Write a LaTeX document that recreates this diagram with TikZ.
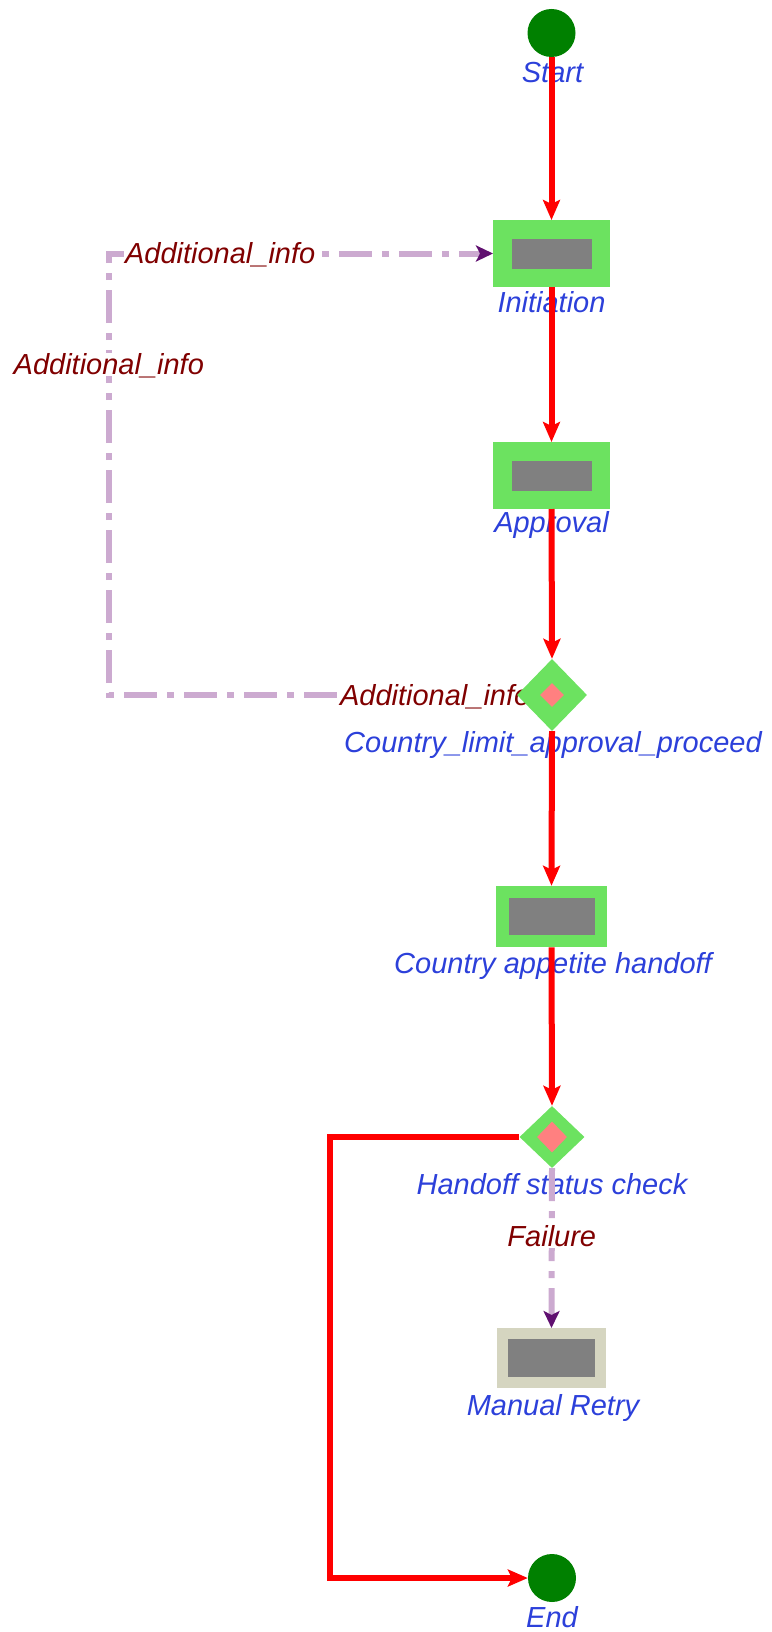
\documentclass[tikz,border=0pt]{standalone}
\usepackage{fontspec}
\setmainfont{Liberation Sans}
\usetikzlibrary{shapes.geometric,arrows.meta}

\pgfdeclarelayer{back}
\pgfsetlayers{back,main}

\definecolor{termgreen}{RGB}{0,128,0}
\definecolor{taskgreen}{RGB}{108,226,96}
\definecolor{taskgray}{RGB}{128,128,128}
\definecolor{retrybeige}{RGB}{213,213,192}
\definecolor{gatepink}{RGB}{255,128,128}
\definecolor{flowred}{RGB}{255,0,0}
\definecolor{looplilac}{RGB}{204,170,208}
\definecolor{looptip}{RGB}{96,16,112}
\definecolor{namecol}{RGB}{44,64,218}
\definecolor{condcol}{RGB}{128,0,0}

\tikzset{
	term/.style={circle, fill=termgreen, minimum size=48pt, inner sep=0pt},
	task/.style={rectangle, draw=taskgreen, fill=taskgray, line width=18.5pt, minimum width=98.5pt, minimum height=48.5pt, inner sep=0pt},
	gate/.style={diamond, fill=taskgreen, minimum width=70pt, minimum height=72pt, inner sep=0pt},
	gatecore/.style={diamond, fill=gatepink, minimum size=24pt, inner sep=0pt},
	nodetext/.style={text=namecol, font=\fontsize{29}{34}\selectfont\itshape, anchor=base, inner sep=0pt},
	condtext/.style={text=condcol, fill=white, font=\fontsize{29}{34}\selectfont\itshape, inner sep=1.5pt, text height=20pt, text depth=0pt},
	flow/.style={draw=flowred, line width=6pt, -{Stealth[length=20pt, width=17pt, inset=4pt]}},
	backflow/.style={draw=looplilac, line width=6pt, dash pattern=on 33pt off 10pt on 7pt off 10pt, -{Stealth[length=17pt, width=16pt, inset=4pt, color=looptip]}}
}

\begin{document}
\begin{tikzpicture}[x=1pt, y=-1pt]
		\useasboundingbox (0,0) rectangle (771,1632);
		
		\node[term] (start) at (551.5,33) {};
		\node[task] (init) at (551.5,253.5) {};
		\node[task] (appr) at (551.5,475.5) {};
		\node[gate] (limit) at (552,695) {};
		\node[gatecore] (limitcore) at (limit) {};
		\node[task, line width=12.5pt, minimum height=49pt] (handover) at (551.5,916.5) {};
		\node[gate, minimum width=65pt, minimum height=62pt] (check) at (552,1137) {};
		\node[gatecore, minimum width=30pt, minimum height=31pt] (checkcore) at (check) {};
		\node[task, draw=retrybeige, line width=11pt, minimum width=98pt, minimum height=49pt] (retry) at (551.5,1358) {};
		\node[term] (stop) at (552,1578) {};
		
		\node[nodetext] (startlbl) at (552.5,83) {Start};
		\node[nodetext] (initlbl) at (551.5,312) {Initiation};
		\node[nodetext] (apprlbl) at (551.5,532) {Approval};
		\node[nodetext] (limitlbl) at (553,752) {Country\_limit\_approval\_proceed};
		\node[nodetext] (handoverlbl) at (553,973) {Country appetite handoff};
		\node[nodetext] (checklbl) at (552,1194) {Handoff status check};
		\node[nodetext] (retrylbl) at (553,1415) {Manual Retry};
		\node[nodetext] (stoplbl) at (552,1627) {End};
		
		\begin{pgfonlayer}{back}
			\draw[backflow] (limit.west) -- node[condtext, pos=0.2] (infoc) {Additional\_info} ++(-408,0)
				|- node[condtext, pos=0.374] (infob) {Additional\_info}
				node[condtext, pos=0.645] (infoa) {Additional\_info} (init.west);
		\end{pgfonlayer}
		
		\draw[flow] (start.south) -- (init.north);
		\draw[flow] (init.south) -- (appr.north);
		\draw[flow] (appr.south) -- (limit.north);
		\draw[flow] (limit.south) -- (handover.north);
		\draw[flow] (handover.south) -- (check.north);
		\draw[flow] (check.west) -- ++(-189,0) |- (stop.west);
		\draw[backflow] (check.south) -- node[condtext, pos=0.43] (fail) {Failure} (retry.north);
		
	\end{tikzpicture}
\end{document}
